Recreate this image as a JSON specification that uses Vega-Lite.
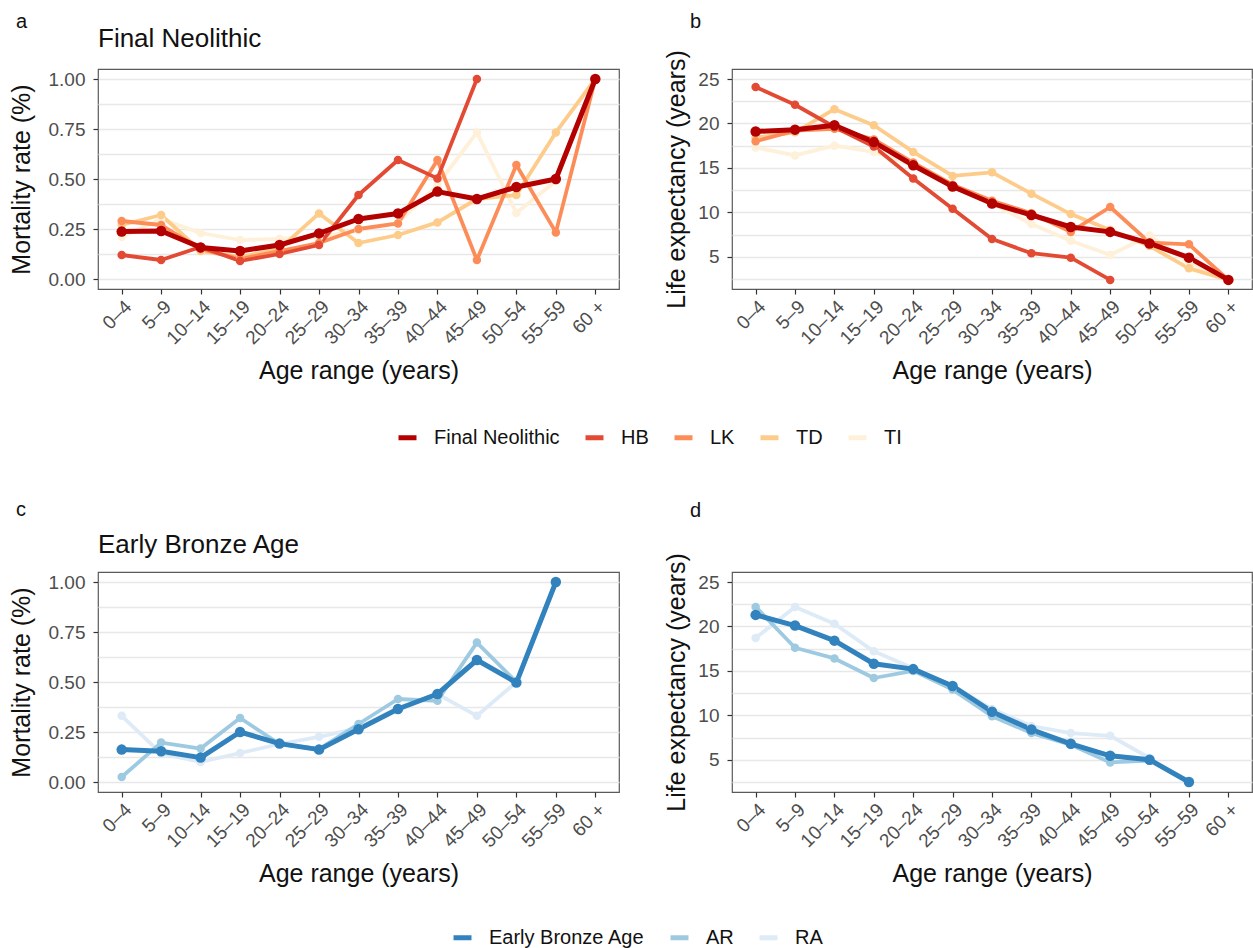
{
  "$schema": "https://vega.github.io/schema/vega-lite/v6.json",
  "background": "white",
  "padding": {"left": 8, "top": 12, "right": 0, "bottom": 0},
  "config": {
    "font": "Liberation Sans",
    "view": {"stroke": "#5a5a5a", "strokeWidth": 1.2},
    "axis": {"labelFontSize": 19, "labelColor": "#4d4d4d", "titleFontSize": 25, "titleFontWeight": "normal", "titleColor": "#111", "tickColor": "#333", "tickSize": 5, "tickWidth": 1.2, "domain": false, "gridColor": "#e8e8e8", "gridWidth": 1.3, "labelPadding": 8},
    "axisX": {"grid": false, "labelAngle": -45, "labelPadding": 3, "titlePadding": 11},
    "axisY": {"titlePadding": 14},
    "title": {"fontSize": 26, "fontWeight": "normal", "anchor": "start", "frame": "group", "color": "#111", "baseline": "alphabetic"},
    "legend": {"title": null, "symbolType": "stroke", "symbolSize": 324, "symbolStrokeWidth": 5, "labelFontSize": 20, "labelColor": "#111", "columnPadding": 15, "labelOffset": 15, "direction": "horizontal", "orient": "none"}
  },
  "datasets": {
    "fn": [
      {"site": "TI", "age": "0–4", "mortality": 0.21, "life": 17.3},
      {"site": "TI", "age": "5–9", "mortality": 0.30, "life": 16.4},
      {"site": "TI", "age": "10–14", "mortality": 0.23, "life": 17.5},
      {"site": "TI", "age": "15–19", "mortality": 0.195, "life": 16.8},
      {"site": "TI", "age": "20–24", "mortality": 0.20, "life": 15.3},
      {"site": "TI", "age": "25–29", "mortality": 0.21, "life": 13.0},
      {"site": "TI", "age": "30–34", "mortality": 0.245, "life": 11.0},
      {"site": "TI", "age": "35–39", "mortality": 0.28, "life": 8.7},
      {"site": "TI", "age": "40–44", "mortality": 0.47, "life": 6.8},
      {"site": "TI", "age": "45–49", "mortality": 0.733, "life": 5.2},
      {"site": "TI", "age": "50–54", "mortality": 0.33, "life": 7.4},
      {"site": "TI", "age": "55–59", "mortality": 0.49, "life": 4.3},
      {"site": "TI", "age": "60 +", "mortality": 1.0, "life": 2.4},
      {"site": "TD", "age": "0–4", "mortality": 0.27, "life": 18.4},
      {"site": "TD", "age": "5–9", "mortality": 0.32, "life": 19.0},
      {"site": "TD", "age": "10–14", "mortality": 0.14, "life": 21.6},
      {"site": "TD", "age": "15–19", "mortality": 0.11, "life": 19.8},
      {"site": "TD", "age": "20–24", "mortality": 0.15, "life": 16.8},
      {"site": "TD", "age": "25–29", "mortality": 0.328, "life": 14.1},
      {"site": "TD", "age": "30–34", "mortality": 0.18, "life": 14.5},
      {"site": "TD", "age": "35–39", "mortality": 0.22, "life": 12.1},
      {"site": "TD", "age": "40–44", "mortality": 0.283, "life": 9.8},
      {"site": "TD", "age": "45–49", "mortality": 0.40, "life": 8.0},
      {"site": "TD", "age": "50–54", "mortality": 0.42, "life": 6.2},
      {"site": "TD", "age": "55–59", "mortality": 0.733, "life": 3.7},
      {"site": "TD", "age": "60 +", "mortality": 1.0, "life": 2.4},
      {"site": "LK", "age": "0–4", "mortality": 0.29, "life": 18.0},
      {"site": "LK", "age": "5–9", "mortality": 0.27, "life": 19.2},
      {"site": "LK", "age": "10–14", "mortality": 0.15, "life": 19.4},
      {"site": "LK", "age": "15–19", "mortality": 0.10, "life": 18.2},
      {"site": "LK", "age": "20–24", "mortality": 0.14, "life": 15.6},
      {"site": "LK", "age": "25–29", "mortality": 0.18, "life": 13.1},
      {"site": "LK", "age": "30–34", "mortality": 0.25, "life": 11.3},
      {"site": "LK", "age": "35–39", "mortality": 0.278, "life": 9.9},
      {"site": "LK", "age": "40–44", "mortality": 0.595, "life": 7.8},
      {"site": "LK", "age": "45–49", "mortality": 0.095, "life": 10.6},
      {"site": "LK", "age": "50–54", "mortality": 0.57, "life": 6.6},
      {"site": "LK", "age": "55–59", "mortality": 0.233, "life": 6.4},
      {"site": "LK", "age": "60 +", "mortality": 1.0, "life": 2.4},
      {"site": "HB", "age": "0–4", "mortality": 0.12, "life": 24.1},
      {"site": "HB", "age": "5–9", "mortality": 0.095, "life": 22.1},
      {"site": "HB", "age": "10–14", "mortality": 0.16, "life": 19.6},
      {"site": "HB", "age": "15–19", "mortality": 0.09, "life": 17.4},
      {"site": "HB", "age": "20–24", "mortality": 0.125, "life": 13.8},
      {"site": "HB", "age": "25–29", "mortality": 0.17, "life": 10.4},
      {"site": "HB", "age": "30–34", "mortality": 0.42, "life": 7.0},
      {"site": "HB", "age": "35–39", "mortality": 0.595, "life": 5.4},
      {"site": "HB", "age": "40–44", "mortality": 0.503, "life": 4.9},
      {"site": "HB", "age": "45–49", "mortality": 1.0, "life": 2.4},
      {"site": "Final Neolithic", "age": "0–4", "mortality": 0.237, "life": 19.1},
      {"site": "Final Neolithic", "age": "5–9", "mortality": 0.24, "life": 19.3},
      {"site": "Final Neolithic", "age": "10–14", "mortality": 0.158, "life": 19.8},
      {"site": "Final Neolithic", "age": "15–19", "mortality": 0.14, "life": 17.9},
      {"site": "Final Neolithic", "age": "20–24", "mortality": 0.17, "life": 15.3},
      {"site": "Final Neolithic", "age": "25–29", "mortality": 0.228, "life": 12.9},
      {"site": "Final Neolithic", "age": "30–34", "mortality": 0.30, "life": 11.0},
      {"site": "Final Neolithic", "age": "35–39", "mortality": 0.328, "life": 9.7},
      {"site": "Final Neolithic", "age": "40–44", "mortality": 0.437, "life": 8.35},
      {"site": "Final Neolithic", "age": "45–49", "mortality": 0.40, "life": 7.8},
      {"site": "Final Neolithic", "age": "50–54", "mortality": 0.46, "life": 6.5},
      {"site": "Final Neolithic", "age": "55–59", "mortality": 0.50, "life": 4.9},
      {"site": "Final Neolithic", "age": "60 +", "mortality": 1.0, "life": 2.4}
    ],
    "eba": [
      {"site": "RA", "age": "0–4", "mortality": 0.331, "life": 18.7},
      {"site": "RA", "age": "5–9", "mortality": 0.142, "life": 22.2},
      {"site": "RA", "age": "10–14", "mortality": 0.10, "life": 20.3},
      {"site": "RA", "age": "15–19", "mortality": 0.145, "life": 17.2},
      {"site": "RA", "age": "20–24", "mortality": 0.19, "life": 15.3},
      {"site": "RA", "age": "25–29", "mortality": 0.226, "life": 13.3},
      {"site": "RA", "age": "30–34", "mortality": 0.27, "life": 10.7},
      {"site": "RA", "age": "35–39", "mortality": 0.37, "life": 8.8},
      {"site": "RA", "age": "40–44", "mortality": 0.44, "life": 8.0},
      {"site": "RA", "age": "45–49", "mortality": 0.331, "life": 7.7},
      {"site": "RA", "age": "50–54", "mortality": 0.5, "life": 5.2},
      {"site": "AR", "age": "0–4", "mortality": 0.025, "life": 22.2},
      {"site": "AR", "age": "5–9", "mortality": 0.197, "life": 17.6},
      {"site": "AR", "age": "10–14", "mortality": 0.167, "life": 16.4},
      {"site": "AR", "age": "15–19", "mortality": 0.32, "life": 14.2},
      {"site": "AR", "age": "20–24", "mortality": 0.19, "life": 15.0},
      {"site": "AR", "age": "25–29", "mortality": 0.165, "life": 12.9},
      {"site": "AR", "age": "30–34", "mortality": 0.29, "life": 9.9},
      {"site": "AR", "age": "35–39", "mortality": 0.415, "life": 8.0},
      {"site": "AR", "age": "40–44", "mortality": 0.406, "life": 6.7},
      {"site": "AR", "age": "45–49", "mortality": 0.697, "life": 4.7},
      {"site": "AR", "age": "50–54", "mortality": 0.5, "life": 4.9},
      {"site": "Early Bronze Age", "age": "0–4", "mortality": 0.162, "life": 21.3},
      {"site": "Early Bronze Age", "age": "5–9", "mortality": 0.154, "life": 20.1},
      {"site": "Early Bronze Age", "age": "10–14", "mortality": 0.122, "life": 18.4},
      {"site": "Early Bronze Age", "age": "15–19", "mortality": 0.25, "life": 15.8},
      {"site": "Early Bronze Age", "age": "20–24", "mortality": 0.192, "life": 15.2},
      {"site": "Early Bronze Age", "age": "25–29", "mortality": 0.162, "life": 13.3},
      {"site": "Early Bronze Age", "age": "30–34", "mortality": 0.264, "life": 10.4},
      {"site": "Early Bronze Age", "age": "35–39", "mortality": 0.365, "life": 8.4},
      {"site": "Early Bronze Age", "age": "40–44", "mortality": 0.44, "life": 6.8},
      {"site": "Early Bronze Age", "age": "45–49", "mortality": 0.61, "life": 5.45},
      {"site": "Early Bronze Age", "age": "50–54", "mortality": 0.497, "life": 5.0},
      {"site": "Early Bronze Age", "age": "55–59", "mortality": 1.0, "life": 2.5}
    ]
  },
  "vconcat": [
    {
      "hconcat": [
        {
          "title": {"text": "a", "fontSize": 20, "dx": -82, "offset": -7},
          "vconcat": [
            {
              "data": {"name": "fn"},
              "width": 521, "height": 220,
              "title": {"text": "Final Neolithic", "offset": 17},
              "encoding": {
                "x": {"field": "age", "type": "ordinal", "sort": ["0–4","5–9","10–14","15–19","20–24","25–29","30–34","35–39","40–44","45–49","50–54","55–59","60 +"], "scale": {"domain": ["0–4","5–9","10–14","15–19","20–24","25–29","30–34","35–39","40–44","45–49","50–54","55–59","60 +"], "padding": 0.6}, "title": "Age range (years)"},
                "y": {"field": "mortality", "type": "quantitative", "title": "Mortality rate (%)", "scale": {"domain": [-0.05, 1.05], "nice": false, "zero": false}, "axis": {"values": [0, 0.125, 0.25, 0.375, 0.5, 0.625, 0.75, 0.875, 1], "labelExpr": "abs(datum.value*4 - round(datum.value*4)) > 0.001 ? '' : format(datum.value, '.2f')", "tickOpacity": {"condition": {"test": "abs(datum.value*4 - round(datum.value*4)) > 0.001", "value": 0}, "value": 1}}},
                "color": {"field": "site", "type": "nominal", "scale": {"domain": ["Final Neolithic", "HB", "LK", "TD", "TI"], "range": ["#b30000", "#e34a33", "#fc8d59", "#fdcc8a", "#fef0d9"]}, "legend": {"legendX": 298, "legendY": 357, "columns": 5}}
              },
              "layer": [
                {"mark": {"type": "line", "strokeJoin": "round", "strokeCap": "round"}, "encoding": {"strokeWidth": {"condition": {"test": "datum.site === 'Final Neolithic'", "value": 5}, "value": 3.8}}},
                {"mark": {"type": "circle", "opacity": 1}, "encoding": {"size": {"condition": {"test": "datum.site === 'Final Neolithic'", "value": 110}, "value": 72}}}
              ]
            }
          ]
        },
        {
          "title": {"text": "b", "fontSize": 20, "dx": -42, "offset": 17},
          "vconcat": [
            {
              "data": {"name": "fn"},
              "width": 520, "height": 220,
              "encoding": {
                "x": {"field": "age", "type": "ordinal", "sort": ["0–4","5–9","10–14","15–19","20–24","25–29","30–34","35–39","40–44","45–49","50–54","55–59","60 +"], "scale": {"domain": ["0–4","5–9","10–14","15–19","20–24","25–29","30–34","35–39","40–44","45–49","50–54","55–59","60 +"], "padding": 0.6}, "title": "Age range (years)"},
                "y": {"field": "life", "type": "quantitative", "title": "Life expectancy (years)", "scale": {"domain": [1.375, 26.125], "nice": false, "zero": false}, "axis": {"titlePadding": 8, "values": [2.5, 5, 7.5, 10, 12.5, 15, 17.5, 20, 22.5, 25], "labelExpr": "datum.value % 5 == 0 ? datum.label : ''", "tickOpacity": {"condition": {"test": "datum.value % 5 != 0", "value": 0}, "value": 1}}},
                "color": {"field": "site", "type": "nominal", "scale": {"domain": ["Final Neolithic", "HB", "LK", "TD", "TI"], "range": ["#b30000", "#e34a33", "#fc8d59", "#fdcc8a", "#fef0d9"]}, "legend": {"legendX": 298, "legendY": 357, "columns": 5}}
              },
              "layer": [
                {"mark": {"type": "line", "strokeJoin": "round", "strokeCap": "round"}, "encoding": {"strokeWidth": {"condition": {"test": "datum.site === 'Final Neolithic'", "value": 5}, "value": 3.8}}},
                {"mark": {"type": "circle", "opacity": 1}, "encoding": {"size": {"condition": {"test": "datum.site === 'Final Neolithic'", "value": 110}, "value": 72}}}
              ]
            }
          ]
        }
      ],
      "spacing": 44
    },
    {
      "hconcat": [
        {
          "title": {"text": "c", "fontSize": 20, "dx": -82, "offset": 11.5},
          "vconcat": [
            {
              "data": {"name": "eba"},
              "width": 521, "height": 220,
              "title": {"text": "Early Bronze Age", "offset": 14},
              "encoding": {
                "x": {"field": "age", "type": "ordinal", "sort": ["0–4","5–9","10–14","15–19","20–24","25–29","30–34","35–39","40–44","45–49","50–54","55–59","60 +"], "scale": {"domain": ["0–4","5–9","10–14","15–19","20–24","25–29","30–34","35–39","40–44","45–49","50–54","55–59","60 +"], "padding": 0.6}, "title": "Age range (years)"},
                "y": {"field": "mortality", "type": "quantitative", "title": "Mortality rate (%)", "scale": {"domain": [-0.05, 1.05], "nice": false, "zero": false}, "axis": {"values": [0, 0.125, 0.25, 0.375, 0.5, 0.625, 0.75, 0.875, 1], "labelExpr": "abs(datum.value*4 - round(datum.value*4)) > 0.001 ? '' : format(datum.value, '.2f')", "tickOpacity": {"condition": {"test": "abs(datum.value*4 - round(datum.value*4)) > 0.001", "value": 0}, "value": 1}}},
                "color": {"field": "site", "type": "nominal", "scale": {"domain": ["Early Bronze Age", "AR", "RA"], "range": ["#3182bd", "#9ecae1", "#deebf7"]}, "legend": {"legendX": 353, "legendY": 354, "columns": 3}}
              },
              "layer": [
                {"mark": {"type": "line", "strokeJoin": "round", "strokeCap": "round"}, "encoding": {"strokeWidth": {"condition": {"test": "datum.site === 'Early Bronze Age'", "value": 5}, "value": 3.8}}},
                {"mark": {"type": "circle", "opacity": 1}, "encoding": {"size": {"condition": {"test": "datum.site === 'Early Bronze Age'", "value": 110}, "value": 72}}}
              ]
            }
          ]
        },
        {
          "title": {"text": "d", "fontSize": 20, "dx": -42, "offset": 31},
          "vconcat": [
            {
              "data": {"name": "eba"},
              "width": 520, "height": 220,
              "encoding": {
                "x": {"field": "age", "type": "ordinal", "sort": ["0–4","5–9","10–14","15–19","20–24","25–29","30–34","35–39","40–44","45–49","50–54","55–59","60 +"], "scale": {"domain": ["0–4","5–9","10–14","15–19","20–24","25–29","30–34","35–39","40–44","45–49","50–54","55–59","60 +"], "padding": 0.6}, "title": "Age range (years)"},
                "y": {"field": "life", "type": "quantitative", "title": "Life expectancy (years)", "scale": {"domain": [1.375, 26.125], "nice": false, "zero": false}, "axis": {"titlePadding": 8, "values": [2.5, 5, 7.5, 10, 12.5, 15, 17.5, 20, 22.5, 25], "labelExpr": "datum.value % 5 == 0 ? datum.label : ''", "tickOpacity": {"condition": {"test": "datum.value % 5 != 0", "value": 0}, "value": 1}}},
                "color": {"field": "site", "type": "nominal", "scale": {"domain": ["Early Bronze Age", "AR", "RA"], "range": ["#3182bd", "#9ecae1", "#deebf7"]}, "legend": {"legendX": 353, "legendY": 354, "columns": 3}}
              },
              "layer": [
                {"mark": {"type": "line", "strokeJoin": "round", "strokeCap": "round"}, "encoding": {"strokeWidth": {"condition": {"test": "datum.site === 'Early Bronze Age'", "value": 5}, "value": 3.8}}},
                {"mark": {"type": "circle", "opacity": 1}, "encoding": {"size": {"condition": {"test": "datum.site === 'Early Bronze Age'", "value": 110}, "value": 72}}}
              ]
            }
          ]
        }
      ],
      "spacing": 44
    }
  ],
  "spacing": 51,
  "resolve": {"scale": {"color": "independent"}, "legend": {"color": "independent"}}
}
